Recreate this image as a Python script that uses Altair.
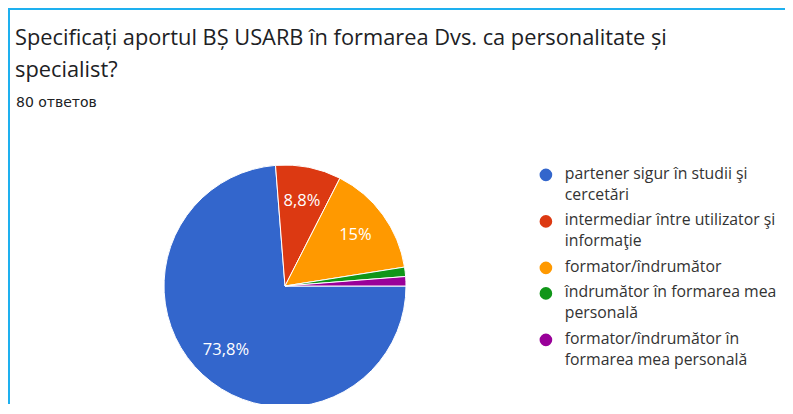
import math
import altair as alt
import pandas as pd

# ---- data ----
categories = [
    "partener sigur în studii şi cercetări",
    "intermediar între utilizator şi informaţie",
    "formator/îndrumător",
    "îndrumător în formarea mea personală",
    "formator/îndrumător în formarea mea personală",
]
counts = [59, 7, 12, 1, 1]
pct_labels = ["73,8%", "8,8%", "15%", "", ""]
colors = ["#3366cc", "#dc3912", "#ff9900", "#109618", "#990099"]
legend_lines = [
    ["partener sigur în studii şi", "cercetări"],
    ["intermediar între utilizator şi", "informaţie"],
    ["formator/îndrumător"],
    ["îndrumător în formarea mea", "personală"],
    ["formator/îndrumător în", "formarea mea personală"],
]
title_lines = [
    "Specificați aportul BȘ USARB în formarea Dvs. ca personalitate și",
    "specialist?",
]
subtitle = "80 ответов"

df = pd.DataFrame({
    "category": categories,
    "count": counts,
    "label": pct_labels,
    "order": list(range(len(categories))),
})

W, H = 777, 396
CX, CY, R = 277, 278, 121
FONT = "Open Sans"

# legend label expression -> multi-line labels
expr = "datum.label"
for cat, lines in reversed(list(zip(categories, legend_lines))):
    arr = "[" + ", ".join("'" + l + "'" for l in lines) + "]"
    expr = f"datum.label == '{cat}' ? {arr} : ({expr})"

theta_scale = alt.Scale(range=[math.pi / 2, math.pi / 2 + 2 * math.pi])

base = alt.Chart(df)

arcs = base.mark_arc(outerRadius=R, stroke="white", strokeWidth=1).encode(
    theta=alt.Theta("count:Q", stack=True, scale=theta_scale),
    color=alt.Color(
        "category:N",
        scale=alt.Scale(domain=categories, range=colors),
        legend=alt.Legend(
            title=None,
            orient="none",
            legendX=530,
            legendY=159,
            symbolType="circle",
            symbolSize=160,
            symbolStrokeWidth=0,
            labelFont=FONT,
            labelFontSize=15.8,
            labelColor="#333333",
            labelLimit=400,
            labelBaseline="alphabetic",
            labelOffset=11,
            rowPadding=8.5,
            labelExpr=expr,
        ),
    ),
    order=alt.Order("order:Q"),
    x=alt.value(CX),
    y=alt.value(CY),
)

texts = base.mark_text(
    radius=87, color="white", font=FONT, fontSize=16.5
).encode(
    theta=alt.Theta("count:Q", stack=True, scale=theta_scale),
    text=alt.Text("label:N"),
    order=alt.Order("order:Q"),
    x=alt.value(CX),
    y=alt.value(CY),
)

title = alt.Chart(alt.Data(values=[{}])).mark_text(
    text=title_lines, align="left", baseline="alphabetic",
    font=FONT, fontSize=21.8, lineHeight=32, color="#202124",
).encode(x=alt.value(7), y=alt.value(36.5))

sub = alt.Chart(alt.Data(values=[{}])).mark_text(
    text=subtitle, align="left", baseline="alphabetic",
    font="DejaVu Sans", fontSize=14, color="#202124",
).encode(x=alt.value(8), y=alt.value(99))

border_top = alt.Chart(alt.Data(values=[{}])).mark_rule(
    color="#1eb0ef", strokeWidth=2
).encode(x=alt.value(0), x2=alt.value(W), y=alt.value(1))

border_left = alt.Chart(alt.Data(values=[{}])).mark_rule(
    color="#1eb0ef", strokeWidth=2
).encode(x=alt.value(1), y=alt.value(0), y2=alt.value(H))

chart = alt.layer(border_top, border_left, title, sub, arcs, texts).properties(
    width=W, height=H,
    autosize=alt.AutoSizeParams(type="none"),
    padding=0,
).configure_view(stroke=None).configure(
    background="white",
    style={"guide-label": {"lineHeight": 21, "dy": 4}},
)

chart.save("out.html", embed_options={"renderer": "svg", "actions": False})
